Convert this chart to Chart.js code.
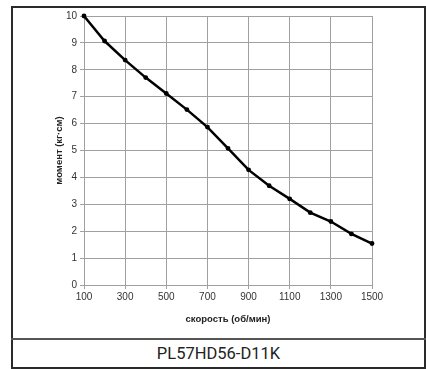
<!DOCTYPE html>
<html>
<head>
<meta charset="utf-8">
<script src="https://cdn.jsdelivr.net/npm/chart.js@4/dist/chart.umd.min.js"></script>
<style>
  html, body { margin: 0; padding: 0; background: #fff; }
  body { width: 426px; height: 369px; position: relative; overflow: hidden; }
  #frame { position: absolute; left: 11px; top: 6px; width: 415px; height: 363px; box-sizing: border-box; border: 2px solid #2a2a2a; }
  #divider { position: absolute; left: 11px; top: 338px; width: 415px; height: 2px; background: #555; }
  #label { position: absolute; left: 11px; top: 340px; width: 415px; height: 27px; line-height: 27px; text-align: center; font-family: Roboto, "Noto Sans", sans-serif; font-size: 16.5px; color: #222; }
  #wrap { position: absolute; left: 0; top: 0; width: 426px; height: 338px; }
</style>
</head>
<body>
<div id="frame"></div>
<div id="divider"></div>
<div id="label">PL57HD56-D11K</div>
<div id="wrap"><canvas id="c"></canvas></div>
<script>
const speeds = [100, 200, 300, 400, 500, 600, 700, 800, 900, 1000, 1100, 1200, 1300, 1400, 1500];
const torque = [10, 9.07, 8.36, 7.71, 7.12, 6.52, 5.87, 5.08, 4.28, 3.69, 3.2, 2.69, 2.36, 1.9, 1.54];
const xTicks = [100, 300, 500, 700, 900, 1100, 1300, 1500];
const yTicks = [0, 1, 2, 3, 4, 5, 6, 7, 8, 9, 10];
const xTitle = 'скорость (об/мин)';
const yTitle = 'момент (кг·см)';

const points = speeds.map((s, i) => ({ x: s, y: torque[i] }));

new Chart(document.getElementById('c'), {
  type: 'line',
  data: {
    datasets: [{
      data: points,
      borderColor: '#000',
      backgroundColor: '#000',
      borderWidth: 2.5,
      pointRadius: 1.2,
      pointHoverRadius: 1.2,
      tension: 0,
      clip: false
    }]
  },
  options: {
    responsive: true,
    maintainAspectRatio: false,
    animation: false,
    events: [],
    layout: { padding: { left: 50, top: 16, right: 54, bottom: 10 } },
    plugins: { legend: { display: false }, tooltip: { enabled: false } },
    scales: {
      x: {
        type: 'linear',
        min: 100, max: 1500,
        afterBuildTicks: (s) => { s.ticks = xTicks.map(v => ({ value: v })); },
        afterFit: (s) => { s.height = 43; },
        grid: { color: '#a0a0a0', lineWidth: 1, tickLength: 4, tickColor: '#a0a0a0' },
        border: { color: '#a0a0a0', width: 1 },
        ticks: { color: '#333', font: { family: '"Liberation Sans", Arial, sans-serif', size: 10 }, padding: 2, maxRotation: 0, autoSkip: false, callback: (v) => String(v) },
        title: { display: true, text: xTitle, color: '#222', font: { family: '"Liberation Sans", Arial, sans-serif', size: 9.5, weight: 'bold' }, padding: { top: 4, bottom: 3 } }
      },
      y: {
        type: 'linear',
        min: 0, max: 10,
        afterBuildTicks: (s) => { s.ticks = yTicks.map(v => ({ value: v })); },
        afterFit: (s) => { s.width = 34; },
        grid: { color: '#a0a0a0', lineWidth: 1, tickLength: 4, tickColor: '#a0a0a0' },
        border: { color: '#a0a0a0', width: 1 },
        ticks: { color: '#333', font: { family: '"Liberation Sans", Arial, sans-serif', size: 10 }, padding: 3, autoSkip: false, callback: (v) => String(v) },
        title: { display: true, text: yTitle, color: '#222', font: { family: '"Liberation Sans", Arial, sans-serif', size: 9.5, weight: 'bold' }, padding: { top: 4, bottom: 4 } }
      }
    }
  }
});
</script>
</body>
</html>
